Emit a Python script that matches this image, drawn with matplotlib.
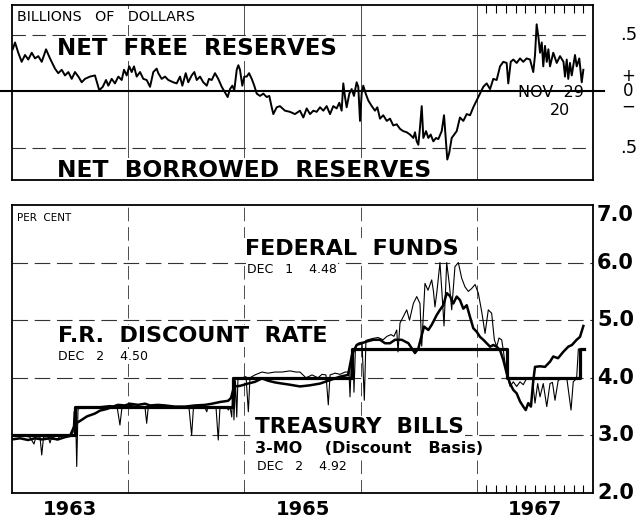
import numpy as np
import matplotlib
matplotlib.use("Agg")
import matplotlib.pyplot as plt
import matplotlib.transforms as mtransforms

# ---------------- DATA ----------------
# Net free / borrowed reserves (billions of dollars); dates = years since 1963
nfr_t = [0.006,0.026,0.054,0.083,0.112,0.140,0.170,0.198,0.226,0.256,
         0.293,0.327,0.370,0.398,0.428,0.456,0.485,0.514,0.542,0.571,
         0.600,0.628,0.671,0.714,0.751,0.781,0.809,0.829,0.858,0.886,
         0.915,0.944,0.964,0.987,1.009,1.030,1.050,1.073,1.102,1.130,
         1.159,1.188,1.216,1.245,1.259,1.288,1.317,1.345,1.388,1.417,
         1.446,1.466,1.495,1.517,1.546,1.569,1.590,1.618,1.646,1.676,
         1.695,1.719,1.747,1.775,1.805,1.833,1.856,1.876,1.896,1.913,
         1.934,1.948,1.962,1.982,1.999,2.020,2.040,2.063,2.085,2.106,
         2.134,2.163,2.192,2.214,2.235,2.249,2.278,2.306,2.349,2.392,
         2.435,2.478,2.507,2.536,2.565,2.593,2.622,2.651,2.679,2.708,
         2.737,2.765,2.794,2.817,2.837,2.851,2.866,2.880,2.903,2.923,
         2.943,2.966,2.980,2.995,3.009,3.023,3.044,3.066,3.096,3.124,
         3.144,3.167,3.195,3.225,3.253,3.281,3.311,3.339,3.367,3.397,
         3.425,3.454,3.468,3.483,3.497,3.511,3.526,3.540,3.563,3.583,
         3.603,3.626,3.649,3.669,3.698,3.718,3.735,3.746,3.763,3.784,
         3.827,3.855,3.884,3.913,3.942,3.970,3.999,4.028,4.056,4.085,
         4.114,4.142,4.171,4.200,4.228,4.257,4.271,4.292,4.314,4.343,
         4.372,4.400,4.429,4.458,4.486,4.501,4.515,4.530,4.544,4.559,
         4.572,4.587,4.602,4.616,4.630,4.658,4.688,4.716,4.746,4.759,
         4.774,4.787,4.802,4.817,4.845,4.860,4.882,4.903,4.917]
nfr_v = [0.37,0.43,0.34,0.26,0.32,0.28,0.34,0.29,0.31,0.26,
         0.37,0.29,0.20,0.16,0.19,0.14,0.17,0.11,0.17,0.13,
         0.08,0.11,0.13,0.14,0.01,0.04,0.10,0.05,0.11,0.07,
         0.13,0.10,0.19,0.14,0.22,0.17,0.22,0.13,0.17,0.11,
         0.10,0.04,0.17,0.20,0.16,0.11,0.13,0.10,0.08,0.07,
         0.13,0.05,0.16,0.08,0.14,0.17,0.10,0.13,0.08,0.05,
         0.11,0.10,0.16,0.11,0.04,-0.01,-0.05,0.02,0.05,0.01,
         0.19,0.23,0.19,0.05,0.13,0.13,0.16,0.11,0.05,-0.02,
         -0.04,-0.02,-0.05,-0.04,-0.14,-0.20,-0.14,-0.13,-0.17,-0.18,
         -0.20,-0.17,-0.23,-0.15,-0.20,-0.17,-0.18,-0.14,-0.17,-0.13,
         -0.20,-0.13,-0.15,-0.10,-0.17,0.07,-0.05,-0.14,-0.02,0.02,
         -0.04,0.08,0.04,-0.26,-0.02,0.05,-0.02,-0.08,-0.13,-0.17,
         -0.14,-0.24,-0.21,-0.26,-0.24,-0.30,-0.29,-0.33,-0.35,-0.36,
         -0.38,-0.41,-0.36,-0.44,-0.47,-0.32,-0.13,-0.41,-0.35,-0.41,
         -0.38,-0.44,-0.41,-0.42,-0.35,-0.21,-0.44,-0.60,-0.54,-0.41,
         -0.35,-0.23,-0.26,-0.20,-0.21,-0.14,-0.08,-0.02,0.04,0.07,
         0.02,0.11,0.10,0.22,0.26,0.25,0.07,0.26,0.28,0.25,
         0.29,0.26,0.29,0.28,0.17,0.32,0.59,0.48,0.34,0.43,
         0.22,0.40,0.26,0.37,0.22,0.34,0.25,0.31,0.26,0.13,
         0.28,0.11,0.25,0.14,0.32,0.22,0.29,0.08,0.19]

# F.R. discount rate (per cent), step changes
dr_t = [0.0, 0.54, 1.90, 2.93, 4.26, 4.89, 4.92]
dr_v = [3.0, 3.5, 4.0, 4.5, 4.0, 4.5, 4.5]

# Treasury bills, 3-month (per cent)
tb_t = [0.000,0.069,0.138,0.198,0.258,0.327,0.396,0.456,0.499,0.534,
        0.559,0.585,0.645,0.714,0.757,0.818,0.869,0.912,0.972,1.015,
        1.084,1.145,1.188,1.256,1.317,1.403,1.489,1.575,1.661,1.721,
        1.790,1.859,1.885,1.911,1.962,2.031,2.091,2.151,2.203,2.263,
        2.324,2.392,2.478,2.565,2.651,2.737,2.823,2.892,2.926,2.966,
        3.009,3.052,3.109,3.167,3.210,3.253,3.296,3.354,3.411,3.468,
        3.497,3.526,3.546,3.583,3.612,3.655,3.683,3.712,3.741,3.769,
        3.798,3.827,3.855,3.884,3.913,3.941,3.970,3.999,4.028,4.056,
        4.085,4.114,4.142,4.171,4.200,4.228,4.257,4.286,4.314,4.343,
        4.372,4.400,4.421,4.443,4.466,4.486,4.501,4.544,4.587,4.630,
        4.658,4.699,4.744,4.787,4.819,4.859,4.888,4.917]
tb_v = [2.93,2.95,2.92,2.95,2.93,2.95,2.93,2.97,2.99,3.15,
        3.22,3.25,3.33,3.38,3.43,3.46,3.50,3.53,3.52,3.55,
        3.53,3.55,3.52,3.53,3.52,3.50,3.50,3.52,3.53,3.55,
        3.58,3.60,3.65,3.85,3.86,3.90,3.93,3.99,3.95,3.92,
        3.90,3.88,3.85,3.87,3.90,3.96,4.02,4.05,4.40,4.57,
        4.60,4.63,4.66,4.66,4.60,4.60,4.66,4.66,4.60,4.43,
        4.51,4.74,4.89,4.83,4.92,5.09,5.18,5.26,5.47,5.42,
        5.29,5.41,5.35,5.20,5.26,5.06,4.86,4.80,4.71,4.66,
        4.60,4.54,4.57,4.54,4.48,4.31,4.08,3.90,3.79,3.73,
        3.59,3.50,3.44,3.56,3.50,3.95,4.19,4.20,4.19,4.28,
        4.37,4.34,4.45,4.54,4.57,4.66,4.71,4.90]

# Federal funds (per cent)
ff_t = [0.000,0.086,0.155,0.189,0.207,0.241,0.256,0.271,0.310,0.327,
        0.344,0.387,0.413,0.465,0.499,0.525,0.534,0.546,0.557,0.568,
        0.585,0.671,0.757,0.843,0.904,0.929,0.947,1.015,1.102,1.145,
        1.159,1.173,1.274,1.360,1.446,1.523,1.546,1.562,1.618,1.661,
        1.676,1.687,1.756,1.775,1.790,1.842,1.862,1.876,1.891,1.902,
        1.910,1.923,1.934,1.945,1.979,2.014,2.034,2.048,2.091,2.151,
        2.203,2.263,2.324,2.392,2.444,2.478,2.504,2.530,2.582,2.633,
        2.668,2.702,2.722,2.737,2.780,2.823,2.866,2.900,2.909,2.923,
        2.935,2.943,2.956,2.978,3.012,3.032,3.046,3.098,3.150,3.193,
        3.227,3.262,3.287,3.311,3.322,3.339,3.367,3.397,3.421,3.454,
        3.483,3.511,3.526,3.554,3.580,3.612,3.627,3.640,3.657,3.683,
        3.701,3.718,3.741,3.765,3.784,3.812,3.841,3.870,3.898,3.927,
        3.956,3.985,4.013,4.042,4.071,4.099,4.128,4.151,4.171,4.191,
        4.214,4.228,4.243,4.257,4.286,4.314,4.343,4.372,4.400,4.429,
        4.458,4.478,4.501,4.524,4.544,4.572,4.602,4.630,4.651,4.673,
        4.701,4.733,4.776,4.811,4.830,4.859,4.874,4.914]
ff_v = [2.98,3.00,2.97,2.85,2.98,2.97,2.66,2.97,2.98,2.87,
        2.98,2.92,2.99,2.97,3.00,3.05,3.40,3.50,2.46,3.45,
        3.48,3.50,3.50,3.52,3.50,3.18,3.50,3.52,3.50,3.48,
        3.21,3.50,3.50,3.50,3.50,3.49,3.00,3.50,3.49,3.48,
        3.41,3.50,3.48,2.92,3.50,3.50,3.44,3.50,3.32,4.00,
        3.27,3.95,3.32,4.00,4.00,4.02,3.41,4.00,4.05,4.10,
        4.08,4.10,4.10,4.12,4.10,4.10,4.05,4.00,4.05,4.00,
        4.06,4.05,3.53,4.05,4.08,4.06,4.10,4.10,3.67,4.45,
        4.50,3.75,4.55,4.60,4.62,3.61,4.65,4.68,4.70,4.66,
        4.72,4.75,4.72,4.83,4.45,4.95,5.06,5.18,5.00,5.29,
        5.41,5.29,4.55,5.64,5.52,5.70,5.50,5.23,5.50,6.00,
        5.45,4.90,6.00,5.60,5.18,5.93,6.00,5.73,5.58,5.50,
        5.55,5.62,5.47,5.15,4.77,5.18,5.12,4.66,4.54,4.69,
        4.66,4.48,4.25,4.08,3.85,3.93,3.85,3.93,3.88,3.99,
        3.97,3.99,3.56,3.90,3.67,3.90,3.50,3.90,3.92,3.61,
        3.96,3.98,3.97,3.44,3.93,3.99,4.50,4.48]

base_year = 1963
year_labels = ["1963", "1965", "1967"]
pct_ticks = [7.0, 6.0, 5.0, 4.0, 3.0, 2.0]
pct_labels = ["7.0", "6.0", "5.0", "4.0", "3.0", "2.0"]
grid_years = [1964, 1965, 1966, 1967]

# ---------------- FIGURE ----------------
W, H, DPI = 644, 520, 100
plt.rcParams['font.family'] = ['DejaVu Sans']
fig = plt.figure(figsize=(W / DPI, H / DPI), dpi=DPI)


def fx(x):
    return x / W


def fy(y):
    return 1 - y / H


ax1 = fig.add_axes([fx(12), fy(180), (593 - 12) / W, (180 - 5) / H])
ax2 = fig.add_axes([fx(12), fy(493), (593 - 12) / W, (493 - 205) / H])

months67 = [1967 + k / 12 for k in range(1, 12)]
for ax in (ax1, ax2):
    ax.set_xlim(1963, 1968)
    ax.set_xticks([])
    ax.set_yticks([])
    ax.set_xticks(months67, minor=True)
    for s in ax.spines.values():
        s.set_linewidth(1.3)

ax1.tick_params(axis='x', which='minor', top=True, bottom=False, direction='in',
                length=6, width=0.8, labelbottom=False, labeltop=False)
ax2.tick_params(axis='x', which='minor', top=False, bottom=True, direction='in',
                length=6, width=0.8, labelbottom=False, labeltop=False)

# ---- top panel ----
ax1.set_ylim(-0.78, 0.76)
for yr in grid_years:
    ax1.axvline(yr, color='0.3', lw=0.7, zorder=1)
for v in (0.5, -0.5):
    ax1.axhline(v, color='0.2', lw=0.8, ls=(0, (12, 6)), zorder=1)
tr1 = mtransforms.blended_transform_factory(ax1.transAxes, ax1.transData)
ax1.plot([-0.021, 1.019], [0, 0], transform=tr1, color='black', lw=1.5,
         clip_on=False, zorder=3)
ax1.plot(base_year + np.array(nfr_t), nfr_v, color='black', lw=1.4, zorder=5)

ax1.text(1.076, 0.5, '.5', transform=tr1, ha='right', va='center', fontsize=13)
ax1.text(1.076, -0.5, '.5', transform=tr1, ha='right', va='center', fontsize=13)
ax1.text(1.061, 0.0, '+\n0\n\u2212', transform=tr1, ha='center', va='center',
         fontsize=12, linespacing=0.78, multialignment='center')

wb = dict(facecolor='white', edgecolor='none', pad=1.0)


def label(ax, x, y, s, size, weight='normal', box=True):
    ax.text(fx(x), fy(y), s, transform=fig.transFigure, fontsize=size,
            fontweight=weight, ha='left', va='baseline', zorder=2,
            bbox=wb if box else None)


label(ax1, 17, 21, 'BILLIONS   OF   DOLLARS', 10.3)
label(ax1, 57, 55, 'NET  FREE  RESERVES', 16.5, 'bold')
label(ax1, 57, 177, 'NET  BORROWED  RESERVES', 16.8, 'bold')
label(ax1, 518, 97, 'NOV  29', 11.5)
label(ax1, 550, 115, '20', 11.5, box=False)

# ---- bottom panel ----
ax2.set_ylim(2, 7)
for v in (3, 4, 5, 6):
    ax2.axhline(v, color='0.2', lw=0.8, ls=(0, (14, 6)), zorder=1)
for yr in grid_years:
    ax2.axvline(yr, color='0.3', lw=0.7, ls=(0, (14, 6)), zorder=1)

ax2.plot(base_year + np.array(ff_t), ff_v, color='black', lw=0.8, zorder=4)
ax2.plot(base_year + np.array(tb_t), tb_v, color='black', lw=1.8, zorder=5)
ax2.step(base_year + np.array(dr_t), dr_v, where='post', color='black', lw=2.3,
         zorder=6)

tr2 = mtransforms.blended_transform_factory(ax2.transAxes, ax2.transData)
for v, s in zip(pct_ticks, pct_labels):
    ax2.text(1.007, v, s, transform=tr2, ha='left',
             va='top' if v == 7.0 else 'center', fontsize=15, fontweight='bold')

trx = mtransforms.blended_transform_factory(ax2.transData, ax2.transAxes)
for s in year_labels:
    ax2.text(int(s) + 0.5, -0.076, s, transform=trx, ha='center', va='baseline',
             fontsize=14, fontweight='bold')

label(ax2, 17, 221, 'PER  CENT', 7.5)
label(ax2, 245, 255, 'FEDERAL  FUNDS', 16, 'bold')
label(ax2, 247, 273, 'DEC   1    4.48', 9)
label(ax2, 58, 342, 'F.R.  DISCOUNT  RATE', 16, 'bold')
label(ax2, 58, 360, 'DEC   2    4.50', 9)
label(ax2, 255, 433, 'TREASURY  BILLS', 15.5, 'bold')
label(ax2, 255, 453, '3-MO    (Discount   Basis)', 11.5, 'bold')
label(ax2, 257, 470, 'DEC   2    4.92', 9)

fig.savefig('out.png', dpi=DPI)
